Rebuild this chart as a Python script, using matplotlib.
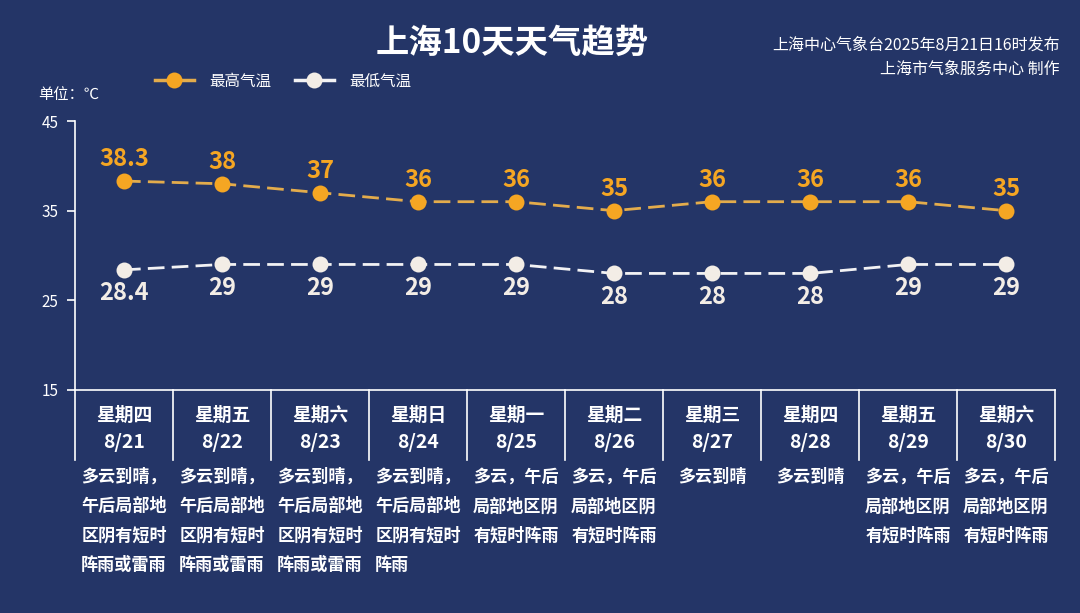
import matplotlib
matplotlib.use('Agg')
import matplotlib.pyplot as plt
from matplotlib.lines import Line2D

plt.rcParams['font.family'] = ['Noto Sans CJK SC', 'DejaVu Sans']

BG = '#243567'
HI_C = '#F5A623'
HI_LINE = '#E3AC4C'
LO_C = '#F3EDE6'
LO_LINE = '#F2F2F4'

# data
weekdays = ['星期四', '星期五', '星期六', '星期日', '星期一', '星期二', '星期三', '星期四', '星期五', '星期六']
dates = ['8/21', '8/22', '8/23', '8/24', '8/25', '8/26', '8/27', '8/28', '8/29', '8/30']
high = [38.3, 38, 37, 36, 36, 35, 36, 36, 36, 35]
low = [28.4, 29, 29, 29, 29, 28, 28, 28, 29, 29]
weather = [
    '多云到晴，\n午后局部地\n区阴有短时\n阵雨或雷雨',
    '多云到晴，\n午后局部地\n区阴有短时\n阵雨或雷雨',
    '多云到晴，\n午后局部地\n区阴有短时\n阵雨或雷雨',
    '多云到晴，\n午后局部地\n区阴有短时\n阵雨',
    '多云，午后\n局部地区阴\n有短时阵雨',
    '多云，午后\n局部地区阴\n有短时阵雨',
    '多云到晴',
    '多云到晴',
    '多云，午后\n局部地区阴\n有短时阵雨',
    '多云，午后\n局部地区阴\n有短时阵雨',
]
yticks = [15, 25, 35, 45]

W, H = 1080, 613
fig = plt.figure(figsize=(W / 100, H / 100), dpi=100, facecolor=BG)
ax = fig.add_axes([75 / W, (H - 390) / H, 980 / W, 269 / H], facecolor=BG)

n = len(dates)
x = list(range(n))
ax.set_xlim(-0.5, n - 0.5)
ax.set_ylim(15, 45)
px = 30 / 269  # data units per pixel in y


def below(p):
    return 15 - p * px


ax.plot(x, high, color=HI_LINE, lw=2.0, dashes=(6, 2.6), zorder=2)
ax.plot(x, low, color=LO_LINE, lw=2.0, dashes=(6, 2.6), zorder=2)
ax.plot(x, high, 'o', color=HI_C, ms=11.5, mec='none', zorder=3)
ax.plot(x, low, 'o', color=LO_C, ms=11.5, mec='none', zorder=3)

for xi, v in zip(x, high):
    ax.annotate(f'{v:g}', (xi, v), xytext=(0, 7), textcoords='offset points',
                ha='center', va='bottom', color=HI_C, fontsize=17, fontweight='bold')
for xi, v in zip(x, low):
    ax.annotate(f'{v:g}', (xi, v), xytext=(0, -8), textcoords='offset points',
                ha='center', va='top', color=LO_C, fontsize=17, fontweight='bold')

# axes styling
for s in ['top', 'right']:
    ax.spines[s].set_visible(False)
for s in ['left', 'bottom']:
    ax.spines[s].set_color('white')
    ax.spines[s].set_linewidth(1.2)
ax.set_xticks([])
ax.set_yticks(yticks)
ax.tick_params(axis='y', colors='white', length=6, width=1.2, labelsize=11, pad=6)

# table below the axis
for i in range(n + 1):
    ax.plot([i - 0.5, i - 0.5], [15, below(70)], color='white', lw=1.2, clip_on=False)
for xi, wd, d, wx in zip(x, weekdays, dates, weather):
    ax.text(xi, below(25), wd, ha='center', va='center', color='white',
            fontsize=13.5, fontweight='bold', clip_on=False)
    ax.text(xi, below(53), d, ha='center', va='center', color='white',
            fontsize=14, fontweight='bold', clip_on=False)
    ax.text(xi, below(78), wx, ha='center', va='top', multialignment='left',
            color='white', fontsize=12.3, fontweight='bold', linespacing=1.8,
            clip_on=False)

# titles and notes
fig.text(512 / W, 1 - 43 / H, '上海10天天气趋势', ha='center', va='center',
         color='white', fontsize=24, fontweight='bold')
fig.text(1060 / W, 1 - 45 / H, '上海中心气象台2025年8月21日16时发布', ha='right',
         va='center', color='white', fontsize=11.5)
fig.text(1060 / W, 1 - 69 / H, '上海市气象服务中心 制作', ha='right',
         va='center', color='white', fontsize=11.5)
fig.text(38 / W, 1 - 94 / H, '单位：℃', ha='left', va='center', color='white', fontsize=11)

handles = [
    Line2D([], [], color=HI_LINE, lw=2.5, marker='o', ms=11.5, mfc=HI_C, mec='none'),
    Line2D([], [], color=LO_LINE, lw=2.5, marker='o', ms=11.5, mfc=LO_C, mec='none'),
]
leg = fig.legend(handles, ['最高气温', '最低气温'], loc='center left',
                 bbox_to_anchor=(155 / W, 1 - 81 / H), ncol=2, frameon=False,
                 borderpad=0, borderaxespad=0,
                 handlelength=2.5, columnspacing=1.5, handletextpad=1.0,
                 fontsize=11.2)
for t in leg.get_texts():
    t.set_color('white')

fig.savefig('out.png', dpi=100, facecolor=BG)
